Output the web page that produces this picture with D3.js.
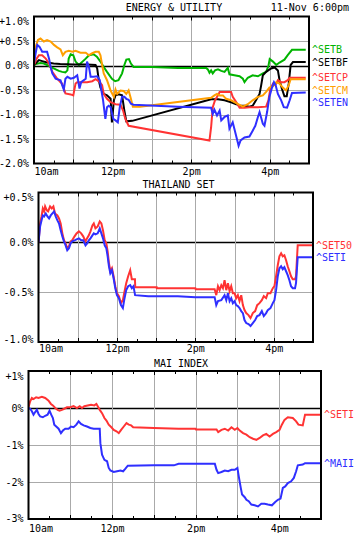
<!DOCTYPE html>
<html><head><meta charset="utf-8">
<script src="https://cdn.jsdelivr.net/npm/d3@7"></script>
<style>
body{margin:0;background:#fff}
svg{display:block}
text{font-family:"DejaVu Sans Mono",monospace;font-size:10px}
</style>
</head><body><svg id="c" width="356" height="533"></svg>
<script>
// time = minutes after 10:00, value = % change
const hourTicks = [0, 60, 120, 180, 240, 300, 360, 420];
const hourLabels = ["10am", "", "12pm", "", "2pm", "", "4pm", ""];
const halfHourTicks = [30, 90, 150, 210, 270, 330, 390];
const dateLabel = "11-Nov 6:00pm";

const p1Ticks = [1, 0.5, 0, -0.5, -1, -1.5, -2];
const p1TickLabels = ["+1.0%", "+0.5%", "0.0%", "-0.5%", "-1.0%", "-1.5%", "-2.0%"];
const p2Ticks = [0.5, 0, -0.5, -1];
const p2TickLabels = ["+0.5%", "0.0%", "-0.5%", "-1.0%"];
const p3Ticks = [1, 0, -1, -2, -3];
const p3TickLabels = ["+1%", "0%", "-1%", "-2%", "-3%"];

const setb = [[0,0],[2.5,0.03],[10,0.05],[15,0.04],[20,0.01],[25,-0.03],[30,-0.06],[38,-0.11],[43,-0.13],[48,-0.14],[51,-0.1],[53,0.14],[56,0.23],[60,0.21],[63.5,0.08],[68.5,0.01],[71,0.04],[79,0.14],[84,0.21],[91,0.23],[96,0.18],[101.5,0.08],[106.5,-0.03],[111.5,-0.13],[119,-0.27],[124,-0.32],[129,-0.3],[134.5,-0.16],[138,0.01],[141,0.12],[145,0.13],[148,0.04],[152,-0.03],[180,-0.03],[220,-0.05],[263,-0.05],[265.5,-0.08],[268,-0.15],[270.5,-0.1],[273,-0.16],[276.5,-0.1],[281,-0.08],[286,-0.11],[291,-0.13],[296,-0.05],[298.5,-0.18],[306,-0.2],[314,-0.22],[319,-0.27],[321.5,-0.34],[326.5,-0.25],[334,-0.2],[342,-0.22],[349.5,-0.16],[354.5,-0.13],[358,-0.01],[360,0.13],[365,0.08],[370,0.01],[375,0.06],[382.5,0.12],[387.5,0.21],[394,0.32],[415,0.32]];
const setbf = [[0,0.01],[7.5,0.11],[12.5,0.09],[20,0.06],[30,0.04],[40,0.03],[61,0.02],[81,0.02],[94,0.01],[96.5,-0.06],[99,-0.3],[101.5,-0.45],[106.5,-0.58],[111.5,-0.61],[117,-0.68],[119,-1.16],[122,-0.71],[124.5,-0.61],[129.5,-0.59],[134.5,-0.61],[138,-0.92],[141,-1.14],[150,-1.13],[270.5,-0.69],[281,-0.69],[291,-0.71],[301,-0.75],[309,-0.79],[314,-0.82],[321.5,-0.82],[329,-0.84],[334,-0.82],[339,-0.71],[344.5,-0.58],[347,-0.4],[349.5,-0.2],[354.5,-0.13],[362,-0.06],[367.5,-0.04],[372.5,-0.1],[375,-0.3],[378.5,-0.47],[382.5,-0.63],[386,-0.63],[389,-0.37],[392,0.01],[395.5,0.07],[415,0.07]];
const setcp = [[0,0.01],[4,0.14],[7.5,0.21],[12.5,0.21],[18,0.14],[23,0.04],[28,-0.13],[35.5,-0.27],[40.5,-0.34],[43,-0.37],[48,-0.57],[56,-0.59],[60,-0.61],[63.5,-0.37],[66,-0.34],[81,-0.34],[89,-0.32],[94,-0.28],[96.5,-0.3],[100.5,-0.34],[104,-0.4],[106.5,-0.58],[111.5,-0.68],[117,-0.75],[124.5,-0.79],[132,-0.8],[136,-0.92],[139.5,-1.09],[144.5,-1.23],[268,-1.53],[270.5,-1.26],[273,-0.85],[276.5,-0.71],[281,-0.61],[283.5,-0.54],[291,-0.54],[301,-0.54],[303.5,-0.64],[309,-0.75],[314,-0.86],[321.5,-0.86],[329,-0.85],[342,-0.85],[354.5,-0.84],[358,-0.71],[361,-0.47],[365,-0.37],[368.5,-0.4],[372.5,-0.3],[377.5,-0.34],[382.5,-0.34],[387.5,-0.3],[390.5,-0.25],[415,-0.25]];
const setcm = [[0,0.04],[2.5,0.38],[6,0.52],[10,0.55],[15,0.49],[20,0.52],[25.5,0.49],[30.5,0.42],[35.5,0.37],[40.5,0.33],[44,0.21],[48,0.28],[53,0.3],[58.5,0.28],[63.5,0.3],[71,0.26],[79,0.26],[84,0.21],[89,0.25],[94,0.28],[99,0.28],[101.5,0.21],[104,0.01],[106.5,-0.16],[111.5,-0.3],[117,-0.51],[122,-0.64],[124.5,-0.49],[127,-0.58],[132,-0.51],[137,-0.52],[141,-0.58],[144.5,-0.51],[148,-0.68],[151,-0.84],[162,-0.84],[270.5,-0.66],[275.5,-0.61],[279.5,-0.58],[283.5,-0.61],[288.5,-0.61],[293.5,-0.68],[301,-0.71],[309,-0.77],[319,-0.84],[326.5,-0.79],[334,-0.71],[342,-0.64],[349.5,-0.61],[354.5,-0.54],[359.5,-0.45],[365,-0.42],[370,-0.34],[375,-0.37],[380,-0.45],[385,-0.51],[389,-0.4],[392,-0.28],[415,-0.28]];
const seten = [[0,0.04],[2.5,0.25],[5,0.42],[8.5,0.38],[12.5,0.28],[20,0.28],[23,0.14],[25.5,-0.03],[28,-0.16],[33,-0.27],[40.5,-0.3],[43,-0.4],[45.5,-0.49],[48,-0.27],[51,-0.23],[56,-0.27],[61,-0.25],[66,-0.2],[69.5,-0.47],[72,-0.34],[79,-0.27],[81,0.08],[84,-0.03],[86.5,-0.23],[91,-0.23],[96.5,-0.22],[100.5,-0.3],[103,-0.51],[105.5,-0.71],[109,-1.09],[111.5,-0.85],[114,-0.82],[117,-0.85],[121,-1.09],[124.5,-1.12],[128,-1.16],[131,-0.85],[134.5,-0.64],[138,-0.64],[141,-0.68],[144.5,-0.7],[148,-0.78],[152,-0.8],[220,-0.84],[270.5,-0.86],[273,-0.99],[275.5,-0.9],[279.5,-1.02],[283.5,-0.92],[286,-1.12],[291,-1.05],[296,-1.02],[298.5,-1.29],[303.5,-1.16],[306,-1.29],[310.5,-1.53],[312.5,-1.64],[315.5,-1.53],[321.5,-1.47],[329,-1.45],[334,-1.33],[338,-1.23],[342,-1.05],[344.5,-0.95],[349.5,-1.19],[352,-1.23],[356,-0.95],[359.5,-0.64],[363.5,-0.45],[366.5,-0.34],[369,-0.4],[372.5,-0.58],[377.5,-0.71],[381.5,-0.85],[386.5,-0.86],[390.5,-0.71],[394,-0.56],[415,-0.55]];

const set50 = [[0,0],[2.5,0.19],[4.6,0.26],[6.6,0.34],[8.6,0.31],[10.1,0.36],[12.7,0.32],[14.7,0.31],[17.7,0.36],[20.3,0.34],[22.8,0.36],[25.3,0.29],[28.9,0.27],[31.4,0.24],[33.9,0.19],[36.5,0.09],[39,0.02],[41.5,-0.01],[44,-0.06],[46.6,-0.04],[49.1,0.01],[51.6,0.02],[55.2,0.06],[58.2,0.09],[61.8,0.11],[65.3,0.09],[68.4,0.06],[71.9,0.01],[74.4,0.04],[77,0.07],[79.5,0.11],[82.5,0.17],[84.6,0.19],[87.1,0.14],[90.6,0.16],[93.7,0.21],[96.2,0.19],[98.7,0.12],[101.3,0.02],[103.8,-0.01],[105.8,-0.09],[107.8,-0.21],[109.9,-0.29],[112.4,-0.26],[114.9,-0.34],[117.5,-0.44],[120,-0.51],[123,-0.54],[126.1,-0.61],[129.1,-0.58],[131.1,-0.51],[134.2,-0.41],[137.2,-0.34],[140.3,-0.28],[142.8,-0.37],[147.6,-0.37],[148,-0.45],[180.8,-0.45],[181,-0.46],[240,-0.46],[240.5,-0.47],[269.5,-0.47],[272,-0.53],[274.6,-0.44],[277.1,-0.48],[279.7,-0.43],[282.2,-0.46],[284.7,-0.38],[287.3,-0.48],[289.8,-0.41],[292.4,-0.49],[294.9,-0.44],[297.4,-0.51],[300,-0.51],[302.5,-0.56],[305,-0.53],[307.6,-0.59],[310.2,-0.53],[312.7,-0.63],[315.2,-0.68],[317.8,-0.71],[321.3,-0.73],[324.4,-0.76],[327.9,-0.71],[331.5,-0.69],[334.6,-0.63],[338.1,-0.61],[341.7,-0.58],[344.7,-0.54],[348.3,-0.56],[350.8,-0.51],[354.9,-0.51],[358.5,-0.46],[361,-0.44],[363.5,-0.34],[366.1,-0.23],[368.6,-0.14],[371.2,-0.11],[373.7,-0.14],[376.2,-0.13],[378.8,-0.18],[381.3,-0.24],[383.9,-0.29],[386.4,-0.34],[389,-0.37],[392.5,-0.37],[394,-0.34],[396.6,-0.03],[420,-0.03]];
const seti = [[0,0],[2.5,0.16],[4.6,0.22],[6.6,0.27],[8.6,0.26],[11.1,0.29],[13.7,0.26],[16.2,0.24],[18.7,0.27],[21.3,0.29],[23.8,0.31],[26.3,0.26],[28.9,0.22],[31.4,0.19],[33.9,0.12],[36.5,0.06],[39,0.01],[41.5,-0.03],[44,-0.08],[46.6,-0.06],[49.1,-0.01],[51.6,0.01],[55.2,0.02],[58.2,0.03],[61.8,0.04],[65.3,0.02],[68.4,0.02],[71.9,-0.03],[74.4,-0.01],[77,0.02],[79.5,0.04],[82.5,0.07],[84.6,0.09],[87.1,0.08],[90.6,0.09],[93.7,0.14],[96.2,0.09],[98.7,0.04],[101.3,-0.03],[103.8,-0.06],[105.8,-0.14],[107.8,-0.24],[109.9,-0.31],[112.4,-0.28],[114.9,-0.36],[117.5,-0.46],[120,-0.53],[123,-0.56],[126.1,-0.63],[129.1,-0.66],[131.1,-0.58],[134.2,-0.48],[137.2,-0.44],[140.3,-0.43],[142.8,-0.46],[145.3,-0.44],[147.8,-0.53],[168,-0.54],[213.2,-0.54],[240,-0.55],[269.5,-0.55],[272,-0.63],[274.6,-0.59],[279.7,-0.58],[284.7,-0.53],[287.3,-0.58],[289.8,-0.51],[292.4,-0.59],[294.9,-0.56],[297.4,-0.61],[300,-0.59],[302.5,-0.63],[305,-0.64],[307.6,-0.66],[310.2,-0.69],[312.7,-0.71],[315.2,-0.78],[317.8,-0.81],[321.3,-0.82],[324.4,-0.84],[327.9,-0.81],[331.5,-0.78],[334.6,-0.74],[338.1,-0.73],[341.7,-0.69],[344.7,-0.74],[348.3,-0.71],[350.8,-0.68],[354.9,-0.66],[358.5,-0.61],[361,-0.58],[363.5,-0.48],[366.1,-0.34],[368.6,-0.26],[371.2,-0.24],[373.7,-0.27],[376.2,-0.25],[378.8,-0.29],[381.3,-0.33],[383.9,-0.38],[386.4,-0.44],[389,-0.46],[392.5,-0.46],[394,-0.41],[396.6,-0.15],[420,-0.15]];

const setiMai = [[0,0.02],[2.4,0.18],[4.8,0.27],[7.2,0.24],[11,0.29],[14.4,0.27],[19.2,0.3],[24,0.27],[28.8,0.2],[32.2,0.11],[35,0.07],[38.4,0],[41.8,-0.05],[44.6,-0.07],[48,-0.05],[51.4,-0.02],[55.2,0.02],[60,0.02],[64.8,0.05],[69.6,0],[73.5,0.05],[76.8,0],[80.2,0.05],[85,0.07],[89.8,0.09],[94.6,0.07],[97.5,0.11],[99.4,0.05],[102.3,-0.05],[105.6,-0.14],[109,-0.27],[111.9,-0.34],[115.2,-0.45],[119,-0.52],[122.4,-0.59],[126.3,-0.63],[129.6,-0.68],[133,-0.59],[136.8,-0.5],[140.7,-0.41],[144,-0.45],[147.4,-0.47],[150.3,-0.52],[180,-0.54],[215.5,-0.56],[240,-0.56],[240.5,-0.58],[270,-0.58],[272.4,-0.65],[277.1,-0.59],[281.9,-0.56],[286.7,-0.61],[291.4,-0.52],[296.2,-0.59],[300,-0.54],[303.3,-0.61],[308.1,-0.68],[312.9,-0.72],[317.6,-0.79],[322.4,-0.83],[327.1,-0.86],[331.9,-0.81],[336.7,-0.74],[341.4,-0.7],[346.2,-0.77],[351,-0.7],[355.7,-0.65],[360.5,-0.59],[363.8,-0.45],[367.6,-0.32],[372.4,-0.25],[379.5,-0.27],[384.3,-0.36],[387.6,-0.45],[393.8,-0.47],[397.1,-0.18],[419,-0.18]];
const maii = [[0,0],[2.4,-0.02],[4.8,-0.09],[7.2,-0.18],[9.6,-0.11],[12,-0.05],[14.4,-0.16],[16.8,-0.23],[20.6,-0.25],[24,-0.21],[27.4,-0.18],[30.2,-0.07],[32.6,-0.18],[35,-0.27],[37,-0.45],[39.8,-0.5],[43.2,-0.56],[46.6,-0.68],[49.4,-0.61],[52.8,-0.56],[57.6,-0.56],[61,-0.5],[64.8,-0.52],[68.7,-0.45],[72,-0.36],[75.4,-0.43],[79.2,-0.47],[84,-0.5],[88.8,-0.54],[93.6,-0.56],[102.3,-0.56],[103.2,-0.95],[105.6,-1.26],[109,-1.4],[112.8,-1.44],[115.2,-1.62],[117.6,-1.69],[122.4,-1.73],[127.2,-1.71],[132,-1.69],[135.9,-1.71],[139.2,-1.64],[142.6,-1.56],[180,-1.55],[208.8,-1.55],[215.5,-1.51],[267.6,-1.51],[270,-1.67],[272.4,-1.76],[277.1,-1.73],[281.9,-1.69],[286.7,-1.71],[291.4,-1.67],[296.2,-1.67],[300,-1.62],[301.9,-1.85],[304.8,-2.16],[306.7,-2.34],[310.5,-2.41],[312.9,-2.48],[316.2,-2.52],[320,-2.61],[324.8,-2.63],[329.5,-2.66],[334.3,-2.59],[339,-2.59],[343.8,-2.61],[349.5,-2.63],[354.3,-2.54],[358.1,-2.48],[361.9,-2.45],[365.2,-2.16],[368.6,-2.12],[372.4,-2.03],[377.1,-1.98],[381,-1.89],[384.3,-1.71],[386.7,-1.55],[393.8,-1.53],[397.1,-1.49],[419,-1.49]];

const GREEN = "#00b400", BLACK = "#000000", RED = "#ff3333", ORANGE = "#ff9f00", BLUE = "#2f2fff";

const panels = [
  {title: "ENERGY & UTILITY", titleX: 174, titleY: 10.5, left: 34, right: 309, top: 16.5, bottom: 163.5,
   domain: [-2, 1], ticks: p1Ticks, labels: p1TickLabels, xLabelY: 175, bottomShift: 0,
   series: [["^SETB", setb, GREEN], ["^SETBF", setbf, BLACK], ["^SETCP", setcp, RED], ["^SETCM", setcm, ORANGE], ["^SETEN", seten, BLUE]]},
  {title: "THAILAND SET", titleX: 178.5, titleY: 188, left: 38.5, right: 313, top: 192.5, bottom: 342,
   domain: [-1, 0.5], ticks: p2Ticks, labels: p2TickLabels, xLabelY: 351.5, bottomShift: -3,
   series: [["^SET50", set50, RED], ["^SETI", seti, BLUE]]},
  {title: "MAI INDEX", titleX: 181, titleY: 366.5, left: 28.5, right: 321, top: 371, bottom: 519,
   domain: [-3, 1], ticks: p3Ticks, labels: p3TickLabels, xLabelY: 531.5, bottomShift: -1,
   series: [["^SETI", setiMai, RED], ["^MAII", maii, BLUE]]}
];

const svg = d3.select("#c");
svg.append("text").attr("x", 349).attr("y", 10.5).attr("text-anchor", "end").attr("fill", "#000").text(dateLabel);

panels.forEach((p, pi) => {
  const x = d3.scaleLinear().domain([0, 420]).range([p.left, p.right]);
  const y = d3.scaleLinear().domain(p.domain).range([p.bottom, p.top]);
  const g = svg.append("g");

  g.append("text").attr("x", p.titleX).attr("y", p.titleY).attr("text-anchor", "middle").text(p.title);

  // grid
  g.selectAll(".hg").data(p.ticks.filter(t => t !== p.domain[0] && t !== p.domain[1]))
    .join("line")
    .attr("x1", p.left).attr("x2", p.right)
    .attr("y1", d => Math.round(y(d)) + 0.5).attr("y2", d => Math.round(y(d)) + 0.5)
    .attr("stroke", d => d === 0 ? "#000" : "#aaaaaa")
    .attr("stroke-width", d => d === 0 ? 1.5 : 1);
  g.selectAll(".vg").data(hourTicks.slice(1, -1))
    .join("line")
    .attr("x1", d => Math.round(x(d)) + 0.5).attr("x2", d => Math.round(x(d)) + 0.5)
    .attr("y1", p.top).attr("y2", p.bottom)
    .attr("stroke", "#aaaaaa").attr("stroke-width", 1);

  // inward ticks
  const tk = [];
  hourTicks.slice(1, -1).forEach(t => tk.push([t, 4]));
  halfHourTicks.forEach(t => tk.push([t, 3]));
  tk.forEach(([t, len]) => {
    const xx = Math.round(x(t)) + 0.5;
    g.append("line").attr("x1", xx).attr("x2", xx).attr("y1", p.top).attr("y2", p.top + len).attr("stroke", "#000");
    g.append("line").attr("x1", xx).attr("x2", xx).attr("y1", p.bottom).attr("y2", p.bottom - len).attr("stroke", "#000");
  });

  // series
  const clipId = "clip" + pi;
  svg.append("clipPath").attr("id", clipId).append("rect")
    .attr("x", p.left).attr("y", p.top).attr("width", p.right - p.left).attr("height", p.bottom - p.top);
  const line = d3.line().x(d => x(d[0])).y(d => y(d[1]));
  const sg = g.append("g").attr("clip-path", `url(#${clipId})`);
  p.series.forEach(([name, data, color]) => {
    sg.append("path").datum(data).attr("d", line).attr("fill", "none")
      .attr("stroke", color).attr("stroke-width", 2).attr("stroke-linejoin", "miter");
  });

  // frame
  g.append("rect").attr("x", p.left).attr("y", p.top).attr("width", p.right - p.left).attr("height", p.bottom - p.top)
    .attr("fill", "none").attr("stroke", "#000").attr("stroke-width", 2);

  // y axis labels
  const yAxis = d3.axisLeft(y).tickValues(p.ticks).tickFormat((d, i) => p.labels[i]).tickSize(0).tickPadding(5);
  const ya = g.append("g").attr("transform", `translate(${p.left},0)`).call(yAxis);
  ya.select(".domain").remove();
  ya.selectAll("text").attr("font-family", "DejaVu Sans Mono").attr("font-size", 10).attr("fill", "#000")
    .attr("transform", d => d === p.domain[1] ? "translate(0,5)" : (d === p.domain[0] ? `translate(0,${p.bottomShift})` : null));

  // x axis labels
  const xAxis = d3.axisBottom(x).tickValues(hourTicks).tickFormat((d, i) => hourLabels[i]).tickSize(0).tickPadding(0);
  const xa = g.append("g").attr("transform", `translate(0,${p.xLabelY})`).call(xAxis);
  xa.select(".domain").remove();
  xa.selectAll("text").attr("font-family", "DejaVu Sans Mono").attr("font-size", 10).attr("fill", "#000")
    .attr("dy", 0).attr("y", 0)
    .attr("text-anchor", d => d === 0 ? "start" : "middle");

  // legend labels at line ends
  const ends = p.series.map(([name, data, color]) => ({name, color, y: y(data[data.length - 1][1])}));
  ends.sort((a, b) => a.y - b.y);
  for (let i = 1; i < ends.length; i++) {
    if (ends[i].y - ends[i - 1].y < 12.5) ends[i].y = ends[i - 1].y + 12.5;
  }
  ends.forEach(e => {
    g.append("text").attr("x", p.right + 3).attr("y", e.y).attr("dy", "0.35em")
      .attr("fill", e.color).text(e.name);
  });
});
</script>
</body></html>
